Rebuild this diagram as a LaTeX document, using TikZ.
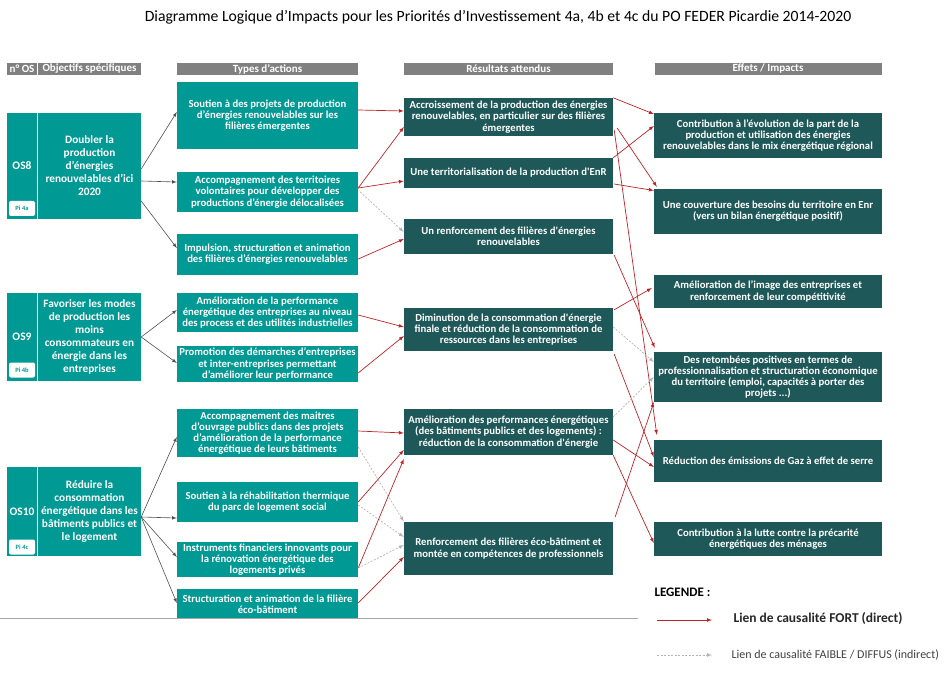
\documentclass[tikz,border=0pt]{standalone}
\usepackage{fontspec}
\setmainfont{Carlito}
\usetikzlibrary{arrows, calc}

\definecolor{osteal}{RGB}{0,153,148}
\definecolor{resdark}{RGB}{30,88,88}
\definecolor{headgrey}{RGB}{128,128,128}
\definecolor{lienrouge}{RGB}{190,35,40}
\definecolor{liengris}{RGB}{180,180,180}
\definecolor{objgris}{RGB}{80,80,80}

\newcommand{\cadrefont}{\fontsize{10.7}{11.2}\selectfont\bfseries}

\tikzset{
    headbar/.style={fill=headgrey, text=white, minimum height=12pt, inner sep=0pt,
        font=\fontsize{11}{12}\selectfont\bfseries},
    osbox/.style={fill=osteal, text=white, minimum width=30pt, inner sep=0pt,
        font=\fontsize{11.5}{13}\selectfont\bfseries},
    objbox/.style={fill=osteal, text=white, align=center, minimum width=103pt, inner sep=0pt,
        font=\fontsize{11.3}{13}\selectfont\bfseries},
    pibox/.style={fill=white, text=osteal, rounded corners=2pt, minimum width=26pt,
        minimum height=15pt, inner sep=0pt, font=\fontsize{6.5}{7}\selectfont\bfseries},
    actbox/.style={fill=osteal, text=white, align=center, minimum width=181pt, inner sep=0pt, font=\cadrefont},
    resbox/.style={fill=resdark, text=white, align=center, minimum width=209pt, inner sep=0pt, font=\cadrefont},
    effbox/.style={fill=resdark, text=white, align=center, minimum width=228pt, inner sep=0pt, font=\cadrefont},
    objlien/.style={draw=objgris, line width=0.6pt, -latex},
    fort/.style={draw=lienrouge, line width=0.7pt, -latex},
    faible/.style={draw=liengris, line width=0.7pt, dash pattern=on 2pt off 1.5pt, -latex},
}

\begin{document}
\begin{tikzpicture}[x=1pt, y=-1pt]
    \useasboundingbox (0,0) rectangle (951,679);
    %% title
    \node (titre) at (498,17) {\fontsize{15.7}{17}\selectfont Diagramme Logique d’Impacts pour les Priorités d’Investissement 4a, 4b et 4c du PO FEDER Picardie 2014-2020};

    %% column headers
    \node[headbar, minimum width=30pt] (hos) at (22,69) {n° OS};
    \node[headbar, minimum width=103pt] (hobj) at (89.5,69) {Objectifs spécifiques};
    \node[headbar, minimum width=181pt] (hact) at (267.5,69) {Types d’actions};
    \node[headbar, minimum width=209pt] (hres) at (508.5,69) {Résultats attendus};
    \node[headbar, minimum width=227pt] (heff) at (768,69) {Effets / Impacts};

    %% specific objectives
    \node[osbox, minimum height=106pt] (os8) at (22,166) {OS8};
    \node[pibox] (pi8) at (22,208.5) {Pi 4a};
    \node[objbox, minimum height=106pt] (o8) at (89.5,166) {Doubler la\\production\\d’énergies\\renouvelables d’ici\\2020};
    \node[osbox, minimum height=88pt] (os9) at (22,337) {OS9};
    \node[pibox] (pi9) at (22,370) {Pi 4b};
    \node[objbox, minimum height=88pt] (o9) at (89.5,337) {Favoriser les modes\\de production les\\moins\\consommateurs en\\énergie dans les\\entreprises};
    \node[osbox, minimum height=89pt] (os10) at (22,511.5) {OS10};
    \node[pibox] (pi10) at (22,547) {Pi 4c};
    \node[objbox, minimum height=89pt] (o10) at (89.5,511.5) {Réduire la\\consommation\\énergétique dans les\\bâtiments publics et\\le logement};

    %% types of actions
    \node[actbox, minimum height=67pt] (a1) at (267.5,115.5) {Soutien à des projets de production\\d’énergies renouvelables sur les\\filières émergentes};
    \node[actbox, minimum height=40pt] (a2) at (267.5,192) {Accompagnement des territoires\\volontaires pour développer des\\productions d’énergie délocalisées};
    \node[actbox, minimum height=41pt] (a3) at (267.5,254.5) {Impulsion, structuration et animation\\des filières d’énergies renouvelables};
    \node[actbox, minimum height=39pt] (a4) at (267.5,312.5) {Amélioration de la performance\\énergétique des entreprises au niveau\\des process et des utilités industrielles};
    \node[actbox, minimum height=36pt] (a5) at (267.5,364) {Promotion des démarches d’entreprises\\et inter-entreprises permettant\\d’améliorer leur performance};
    \node[actbox, minimum height=48pt] (a6) at (267.5,433) {Accompagnement des maitres\\d’ouvrage publics dans des projets\\d’amélioration de la performance\\énergétique de leurs bâtiments};
    \node[actbox, minimum height=40pt] (a7) at (267.5,502) {Soutien à la réhabilitation thermique\\du parc de logement social};
    \node[actbox, minimum height=35pt] (a8) at (267.5,559.5) {Instruments financiers innovants pour\\la rénovation énergétique des\\logements privés};
    \node[actbox, minimum height=30pt] (a9) at (267.5,604) {Structuration et animation de la filière\\éco-bâtiment};

    %% expected results
    \node[resbox, minimum height=38pt] (r1) at (508.5,117) {Accroissement de la production des énergies\\renouvelables, en particulier sur des filières\\émergentes};
    \node[resbox, minimum height=30pt] (r2) at (508.5,173) {Une territorialisation de la production d\textquotesingle EnR};
    \node[resbox, minimum height=35pt] (r3) at (508.5,236.5) {Un renforcement des filières d\textquotesingle énergies\\renouvelables};
    \node[resbox, minimum height=43pt] (r4) at (508.5,329.5) {Diminution de la consommation d\textquotesingle énergie\\finale et réduction de la consommation de\\ressources dans les entreprises};
    \node[resbox, minimum height=46pt] (r5) at (508.5,432) {Amélioration des performances énergétiques\\(des bâtiments publics et des logements) :\\réduction de la consommation d\textquotesingle énergie};
    \node[resbox, minimum height=53pt] (r6) at (508.5,548.5) {Renforcement des filières éco-bâtiment et\\montée en compétences de professionnels};

    %% effects / impacts
    \node[effbox, minimum height=45pt] (e1) at (768,135.5) {Contribution à l’évolution de la part de la\\production et utilisation des énergies\\renouvelables dans le mix énergétique régional};
    \node[effbox, minimum height=45pt] (e2) at (768,211.5) {Une couverture des besoins du territoire en Enr\\(vers un bilan énergétique positif)};
    \node[effbox, minimum height=33pt] (e3) at (768,291.5) {Amélioration de l’image des entreprises et\\renforcement de leur compétitivité};
    \node[effbox, minimum height=50pt] (e4) at (768,377) {Des retombées positives en termes de\\professionnalisation et structuration économique\\du territoire (emploi, capacités à porter des\\projets ...)};
    \node[effbox, minimum height=42pt] (e5) at (768,461) {Réduction des émissions de Gaz à effet de serre};
    \node[effbox, minimum height=34pt] (e6) at (768,539) {Contribution à la lutte contre la précarité\\énergétiques des ménages};

    %% objectives -> actions
    \draw[objlien] ($(o8.east)+(0,3)$) -- ($(a1.west)+(0,-3.5)$);
    \draw[objlien] ($(o8.east)+(0,15)$) -- ($(a2.west)+(0,-10)$);
    \draw[objlien] ($(o8.east)+(0,35)$) -- ($(a3.west)+(0,-6.5)$);
    \draw[objlien] (o9.east) -- ($(a4.west)+(0,-2.5)$);
    \draw[objlien] (o9.east) -- ($(a5.west)+(0,-1)$);
    \draw[objlien] ($(o10.east)+(0,5.5)$) -- ($(a6.west)+(0,4)$);
    \draw[objlien] ($(o10.east)+(0,5.5)$) -- ($(a7.west)+(0,16)$);
    \draw[objlien] ($(o10.east)+(0,5.5)$) -- ($(a8.west)+(0,-2.5)$);
    \draw[objlien] ($(o10.east)+(0,5.5)$) -- ($(a9.west)+(0,-1)$);

    %% actions -> results
    \draw[fort] ($(a1.east)+(0,-5.5)$) -- ($(r1.west)+(0,-6)$);
    \draw[fort] ($(a2.east)+(0,-4)$) -- ($(r1.west)+(0,10)$);
    \draw[fort] ($(a2.east)+(0,-4)$) -- ($(r2.west)+(0,8)$);
    \draw[faible] ($(a2.east)+(2,0)$) -- ($(r3.west)+(0,-4.5)$);
    \draw[fort] ($(a3.east)+(0,4.5)$) -- ($(r3.west)+(0,2.5)$);
    \draw[fort] ($(a4.east)+(0,2.5)$) -- ($(r4.west)+(0,-2.5)$);
    \draw[fort] ($(a5.east)+(0,9)$) -- ($(r4.west)+(0,6.5)$);
    \draw[fort] ($(a6.east)+(0,-2)$) -- ($(r5.west)+(0,1)$);
    \draw[faible] ($(a6.east)+(0,14)$) -- ($(r6.west)+(0,-27)$);
    \draw[fort] (a7.east) -- ($(r5.west)+(0,18)$);
    \draw[faible] ($(a7.east)+(0,3)$) -- ($(r6.west)+(0,-11.5)$);
    \draw[fort] ($(a8.east)+(0,8.5)$) -- ($(r5.west)+(0,27)$);
    \draw[faible] ($(a8.east)+(0,8.5)$) -- ($(r6.west)+(0,-3.5)$);
    \draw[fort] ($(a9.east)+(0,-1)$) -- ($(r6.west)+(0,8.5)$);

    %% results -> effects
    \draw[fort] (r1.north east) -- ($(e1.west)+(0,-21.5)$);
    \draw[fort] ($(r1.east)+(4,11)$) -- ($(e2.north west)+(3,-2)$);
    \draw[fort] ($(r1.east)+(1,13)$) -- ($(e5.north west)+(3,-5)$);
    \draw[fort] (r2.north east) -- ($(e1.west)+(0,-9.5)$);
    \draw[fort] ($(r2.east)+(1,11)$) -- ($(e2.west)+(0,-21)$);
    \draw[fort] ($(r3.south east)+(1,1)$) -- ($(e4.north west)+(1,-4)$);
    \draw[fort] ($(r4.north east)+(1,2)$) -- ($(e3.west)+(-2,-3.5)$);
    \draw[fort] ($(r4.south east)+(1,3)$) -- ($(e5.west)+(0,-4)$);
    \draw[faible] ($(r4.east)+(0,-2.5)$) -- ($(e4.west)+(0,-15)$);
    \draw[faible] ($(r5.east)+(0,-15)$) -- (e4.west);
    \draw[fort] ($(r5.east)+(0,8)$) -- ($(e5.west)+(0,6)$);
    \draw[fort] (r5.south east) -- ($(e6.west)+(0,4)$);
    \draw[fort] ($(r6.north east)+(2,-5)$) -- (e4.south west);

    %% separator
    \draw[draw=headgrey!70, line width=0.8pt] (0,618) -- (638,618);

    %% legend
    \node[anchor=west, font=\fontsize{13}{14}\selectfont\bfseries] (legende) at (651,592) {LEGENDE :};
    \coordinate (lf1) at (657,620);
    \coordinate (lf2) at (712,620);
    \draw[fort] (lf1) -- (lf2);
    \node[anchor=west, font=\fontsize{13.5}{15}\selectfont\bfseries, text=black!85] (lfort) at (730,619) {Lien de causalité FORT (direct)};
    \coordinate (lw1) at (657,655);
    \coordinate (lw2) at (712,655);
    \draw[faible] (lw1) -- (lw2);
    \node[anchor=west, font=\fontsize{12}{14}\selectfont, text=black!75] (lfaible) at (728,655) {Lien de causalité FAIBLE / DIFFUS (indirect)};
\end{tikzpicture}
\end{document}
